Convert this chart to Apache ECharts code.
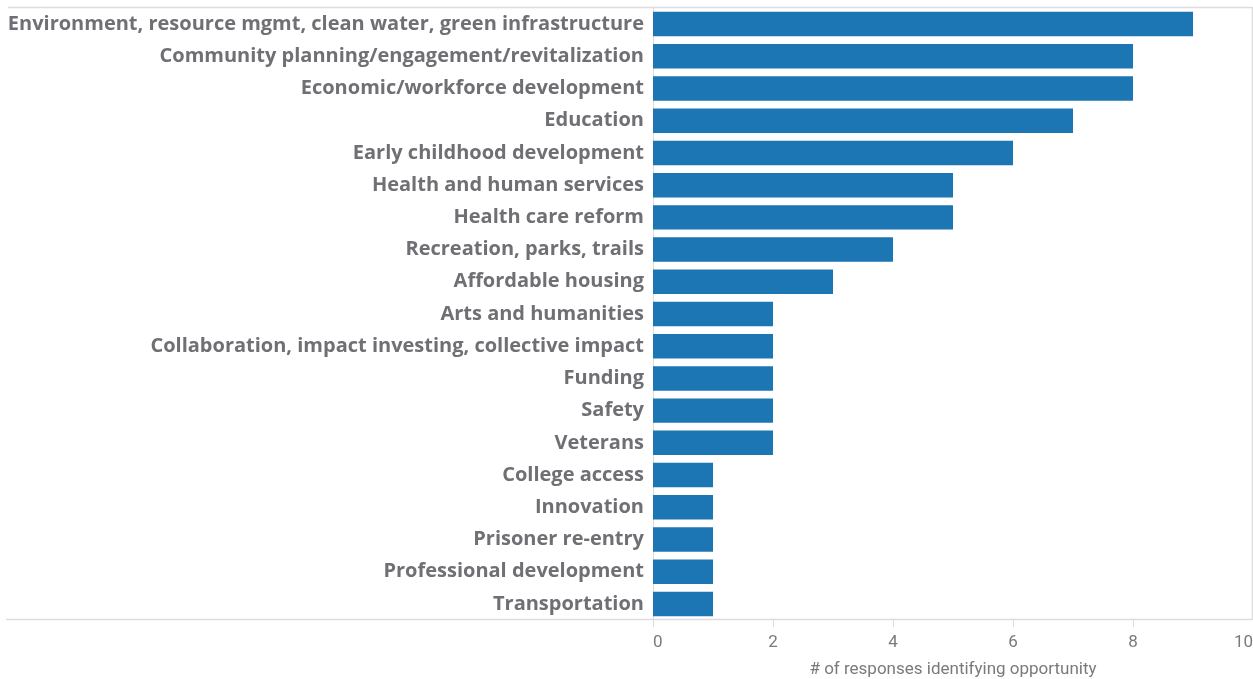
<!DOCTYPE html>
<html>
<head>
<meta charset="utf-8">
<script src="https://cdn.jsdelivr.net/npm/echarts@6/dist/echarts.min.js"></script>
<style>
  html, body { margin: 0; padding: 0; background: #fff; }
  #chart { width: 1253px; height: 679px; }
</style>
</head>
<body>
<div id="chart"></div>
<script>
// Opportunity areas, top to bottom
const categories = [
  'Environment, resource mgmt, clean water, green infrastructure',
  'Community planning/engagement/revitalization',
  'Economic/workforce development',
  'Education',
  'Early childhood development',
  'Health and human services',
  'Health care reform',
  'Recreation, parks, trails',
  'Affordable housing',
  'Arts and humanities',
  'Collaboration, impact investing, collective impact',
  'Funding',
  'Safety',
  'Veterans',
  'College access',
  'Innovation',
  'Prisoner re-entry',
  'Professional development',
  'Transportation'
];
const responses = [9, 8, 8, 7, 6, 5, 5, 4, 3, 2, 2, 2, 2, 2, 1, 1, 1, 1, 1];
const xTicks = [0, 2, 4, 6, 8, 10];
const axisTitle = '# of responses identifying opportunity';

const chart = echarts.init(document.getElementById('chart'), null, { renderer: 'canvas' });

const frameColor = '#dcdcdc';

chart.setOption({
  animation: false,
  grid: {
    left: 653, right: 0, top: 8, bottom: 59,
    containLabel: false,
    outerBoundsMode: 'none'
  },
  xAxis: {
    type: 'value',
    min: xTicks[0],
    max: xTicks[xTicks.length - 1],
    interval: 2,
    name: axisTitle,
    nameLocation: 'middle',
    nameGap: 41,
    nameTextStyle: { color: '#7a7a7a', fontSize: 17, fontFamily: 'Roboto' },
    axisLine: { show: false },
    axisTick: { show: true, length: 7, lineStyle: { color: frameColor, width: 1 } },
    axisLabel: {
      color: '#7a7a7a', fontSize: 17, fontFamily: 'Roboto', margin: 14,
      alignMinLabel: 'left', alignMaxLabel: 'right'
    },
    splitLine: { show: false }
  },
  yAxis: {
    type: 'category',
    data: categories,
    inverse: true,
    axisLine: { show: true, lineStyle: { color: frameColor, width: 1 } },
    axisTick: { show: false },
    axisLabel: {
      color: '#6f6f74', fontSize: 20, fontWeight: 'bold',
      fontFamily: 'Open Sans', margin: 9
    },
    splitLine: { show: false }
  },
  series: [{
    type: 'bar',
    data: responses,
    barCategoryGap: '24%',
    itemStyle: { color: '#1c76b4' },
    silent: true
  }],
  graphic: [
    { type: 'line', shape: { x1: 8, y1: 7.5, x2: 1252.5, y2: 7.5 }, style: { stroke: frameColor, lineWidth: 1.5 }, silent: true },
    { type: 'line', shape: { x1: 1252.5, y1: 7, x2: 1252.5, y2: 620 }, style: { stroke: frameColor, lineWidth: 1.5 }, silent: true },
    { type: 'line', shape: { x1: 6, y1: 619.5, x2: 1252.5, y2: 619.5 }, style: { stroke: frameColor, lineWidth: 1.5 }, silent: true }
  ]
});
</script>
</body>
</html>
